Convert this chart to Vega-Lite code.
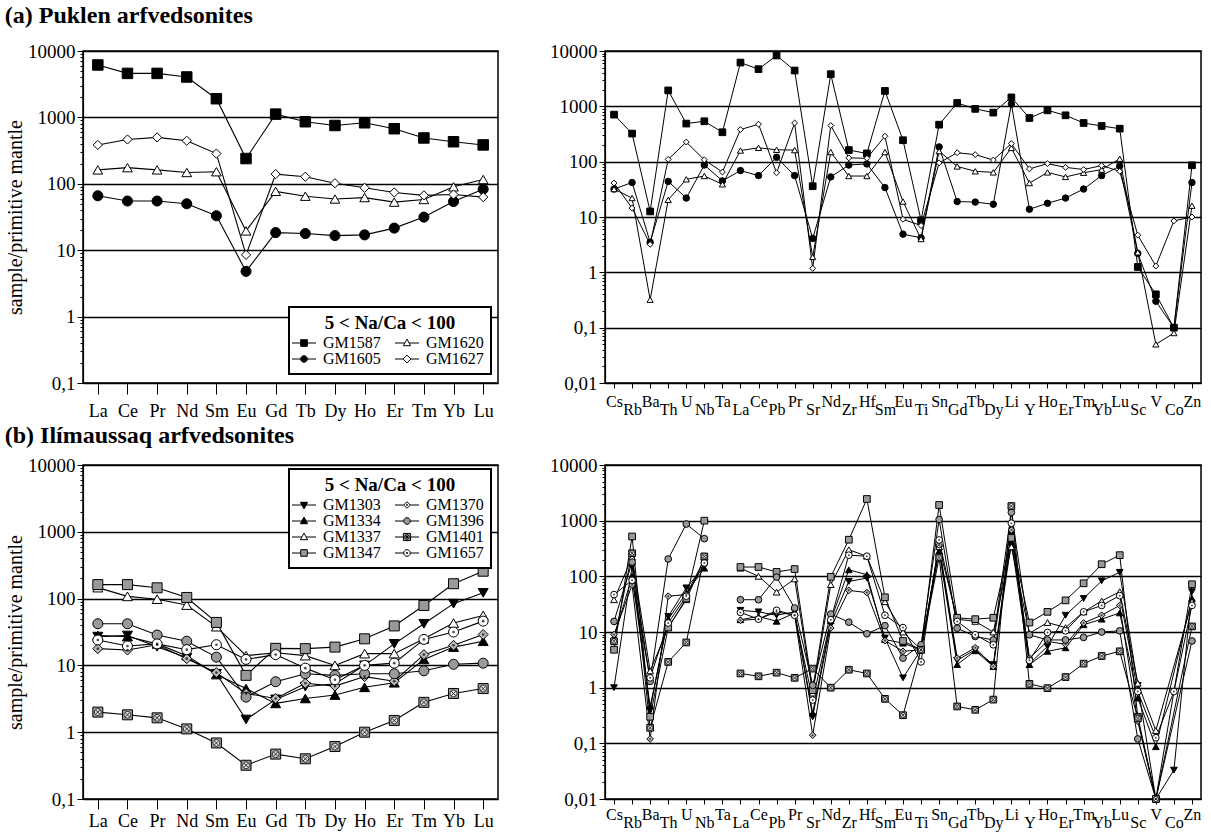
{
  "$schema": "https://vega.github.io/schema/vega-lite/v6.json",
  "padding": {"left": 4, "top": 4, "right": 3, "bottom": 2},
  "background": "white",
  "datasets": {
    "tREE": [
      {"s":"GM1587","e":"La","v":6160},{"s":"GM1587","e":"Ce","v":4600},{"s":"GM1587","e":"Pr","v":4600},{"s":"GM1587","e":"Nd","v":4060},{"s":"GM1587","e":"Sm","v":1910},{"s":"GM1587","e":"Eu","v":240},{"s":"GM1587","e":"Gd","v":1120},{"s":"GM1587","e":"Tb","v":860},{"s":"GM1587","e":"Dy","v":755},{"s":"GM1587","e":"Ho","v":830},{"s":"GM1587","e":"Er","v":675},{"s":"GM1587","e":"Tm","v":490},{"s":"GM1587","e":"Yb","v":430},{"s":"GM1587","e":"Lu","v":385},
      {"s":"GM1605","e":"La","v":66},{"s":"GM1605","e":"Ce","v":55},{"s":"GM1605","e":"Pr","v":55},{"s":"GM1605","e":"Nd","v":50},{"s":"GM1605","e":"Sm","v":33},{"s":"GM1605","e":"Eu","v":4.8},{"s":"GM1605","e":"Gd","v":18.4},{"s":"GM1605","e":"Tb","v":17.8},{"s":"GM1605","e":"Dy","v":16.6},{"s":"GM1605","e":"Ho","v":17},{"s":"GM1605","e":"Er","v":21.5},{"s":"GM1605","e":"Tm","v":31.5},{"s":"GM1605","e":"Yb","v":54},{"s":"GM1605","e":"Lu","v":83},
      {"s":"GM1620","e":"La","v":162},{"s":"GM1620","e":"Ce","v":175},{"s":"GM1620","e":"Pr","v":162},{"s":"GM1620","e":"Nd","v":148},{"s":"GM1620","e":"Sm","v":152},{"s":"GM1620","e":"Eu","v":19.5},{"s":"GM1620","e":"Gd","v":77},{"s":"GM1620","e":"Tb","v":65},{"s":"GM1620","e":"Dy","v":59},{"s":"GM1620","e":"Ho","v":62},{"s":"GM1620","e":"Er","v":53},{"s":"GM1620","e":"Tm","v":58},{"s":"GM1620","e":"Yb","v":90},{"s":"GM1620","e":"Lu","v":116},
      {"s":"GM1627","e":"La","v":385},{"s":"GM1627","e":"Ce","v":465},{"s":"GM1627","e":"Pr","v":500},{"s":"GM1627","e":"Nd","v":445},{"s":"GM1627","e":"Sm","v":285},{"s":"GM1627","e":"Eu","v":8.5},{"s":"GM1627","e":"Gd","v":140},{"s":"GM1627","e":"Tb","v":128},{"s":"GM1627","e":"Dy","v":102},{"s":"GM1627","e":"Ho","v":87},{"s":"GM1627","e":"Er","v":74},{"s":"GM1627","e":"Tm","v":67},{"s":"GM1627","e":"Yb","v":69},{"s":"GM1627","e":"Lu","v":63}
    ],
    "tSp": [
      {"s":"GM1587","e":"Cs","v":708},{"s":"GM1587","e":"Rb","v":322},{"s":"GM1587","e":"Ba","v":12.6},{"s":"GM1587","e":"Th","v":1940},{"s":"GM1587","e":"U","v":488},{"s":"GM1587","e":"Nb","v":537},{"s":"GM1587","e":"Ta","v":340},{"s":"GM1587","e":"La","v":6180},{"s":"GM1587","e":"Ce","v":4690},{"s":"GM1587","e":"Pb","v":8300},{"s":"GM1587","e":"Pr","v":4440},{"s":"GM1587","e":"Sr","v":36},{"s":"GM1587","e":"Nd","v":3810},{"s":"GM1587","e":"Zr","v":162},{"s":"GM1587","e":"Hf","v":141},{"s":"GM1587","e":"Sm","v":1900},{"s":"GM1587","e":"Eu","v":244},{"s":"GM1587","e":"Ti","v":8.7},{"s":"GM1587","e":"Sn","v":466},{"s":"GM1587","e":"Gd","v":1150},{"s":"GM1587","e":"Tb","v":900},{"s":"GM1587","e":"Dy","v":770},{"s":"GM1587","e":"Li","v":1450},{"s":"GM1587","e":"Y","v":615},{"s":"GM1587","e":"Ho","v":846},{"s":"GM1587","e":"Er","v":688},{"s":"GM1587","e":"Tm","v":500},{"s":"GM1587","e":"Yb","v":441},{"s":"GM1587","e":"Lu","v":395},{"s":"GM1587","e":"Sc","v":1.25},{"s":"GM1587","e":"V","v":0.4},{"s":"GM1587","e":"Co","v":0.1},{"s":"GM1587","e":"Zn","v":86},
      {"s":"GM1605","e":"Cs","v":32},{"s":"GM1605","e":"Rb","v":42},{"s":"GM1605","e":"Ba","v":3.5},{"s":"GM1605","e":"Th","v":44},{"s":"GM1605","e":"U","v":22},{"s":"GM1605","e":"Nb","v":87},{"s":"GM1605","e":"Ta","v":45},{"s":"GM1605","e":"La","v":69},{"s":"GM1605","e":"Ce","v":56},{"s":"GM1605","e":"Pb","v":120},{"s":"GM1605","e":"Pr","v":56},{"s":"GM1605","e":"Sr","v":4.1},{"s":"GM1605","e":"Nd","v":53},{"s":"GM1605","e":"Zr","v":87},{"s":"GM1605","e":"Hf","v":91},{"s":"GM1605","e":"Sm","v":34},{"s":"GM1605","e":"Eu","v":4.9},{"s":"GM1605","e":"Ti","v":4.2},{"s":"GM1605","e":"Sn","v":185},{"s":"GM1605","e":"Gd","v":19},{"s":"GM1605","e":"Tb","v":18.6},{"s":"GM1605","e":"Dy","v":17},{"s":"GM1605","e":"Li","v":1100},{"s":"GM1605","e":"Y","v":13.8},{"s":"GM1605","e":"Ho","v":17.7},{"s":"GM1605","e":"Er","v":22},{"s":"GM1605","e":"Tm","v":32},{"s":"GM1605","e":"Yb","v":56},{"s":"GM1605","e":"Lu","v":83},{"s":"GM1605","e":"Sc","v":2.2},{"s":"GM1605","e":"V","v":0.3},{"s":"GM1605","e":"Co","v":0.1},{"s":"GM1605","e":"Zn","v":42},
      {"s":"GM1620","e":"Cs","v":32},{"s":"GM1620","e":"Rb","v":22},{"s":"GM1620","e":"Ba","v":0.32},{"s":"GM1620","e":"Th","v":20.4},{"s":"GM1620","e":"U","v":48},{"s":"GM1620","e":"Nb","v":55},{"s":"GM1620","e":"Ta","v":39},{"s":"GM1620","e":"La","v":159},{"s":"GM1620","e":"Ce","v":178},{"s":"GM1620","e":"Pb","v":164},{"s":"GM1620","e":"Pr","v":162},{"s":"GM1620","e":"Sr","v":1.9},{"s":"GM1620","e":"Nd","v":149},{"s":"GM1620","e":"Zr","v":55},{"s":"GM1620","e":"Hf","v":55},{"s":"GM1620","e":"Sm","v":149},{"s":"GM1620","e":"Eu","v":19},{"s":"GM1620","e":"Ti","v":4.0},{"s":"GM1620","e":"Sn","v":155},{"s":"GM1620","e":"Gd","v":82},{"s":"GM1620","e":"Tb","v":67},{"s":"GM1620","e":"Dy","v":64},{"s":"GM1620","e":"Li","v":177},{"s":"GM1620","e":"Y","v":41},{"s":"GM1620","e":"Ho","v":64},{"s":"GM1620","e":"Er","v":53},{"s":"GM1620","e":"Tm","v":63},{"s":"GM1620","e":"Yb","v":72},{"s":"GM1620","e":"Lu","v":113},{"s":"GM1620","e":"Sc","v":2.3},{"s":"GM1620","e":"V","v":0.05},{"s":"GM1620","e":"Co","v":0.08},{"s":"GM1620","e":"Zn","v":16},
      {"s":"GM1627","e":"Cs","v":41},{"s":"GM1627","e":"Rb","v":14.5},{"s":"GM1627","e":"Ba","v":3.2},{"s":"GM1627","e":"Th","v":110},{"s":"GM1627","e":"U","v":226},{"s":"GM1627","e":"Nb","v":108},{"s":"GM1627","e":"Ta","v":65},{"s":"GM1627","e":"La","v":380},{"s":"GM1627","e":"Ce","v":475},{"s":"GM1627","e":"Pb","v":63},{"s":"GM1627","e":"Pr","v":500},{"s":"GM1627","e":"Sr","v":1.18},{"s":"GM1627","e":"Nd","v":450},{"s":"GM1627","e":"Zr","v":117},{"s":"GM1627","e":"Hf","v":115},{"s":"GM1627","e":"Sm","v":288},{"s":"GM1627","e":"Eu","v":9.1},{"s":"GM1627","e":"Ti","v":7},{"s":"GM1627","e":"Sn","v":95},{"s":"GM1627","e":"Gd","v":145},{"s":"GM1627","e":"Tb","v":134},{"s":"GM1627","e":"Dy","v":107},{"s":"GM1627","e":"Li","v":212},{"s":"GM1627","e":"Y","v":74},{"s":"GM1627","e":"Ho","v":92},{"s":"GM1627","e":"Er","v":79},{"s":"GM1627","e":"Tm","v":72},{"s":"GM1627","e":"Yb","v":85},{"s":"GM1627","e":"Lu","v":67},{"s":"GM1627","e":"Sc","v":4.7},{"s":"GM1627","e":"V","v":1.3},{"s":"GM1627","e":"Co","v":8.5},{"s":"GM1627","e":"Zn","v":10}
    ],
    "bREE": [
      {"s":"GM1303","e":"La","v":27},{"s":"GM1303","e":"Ce","v":28},{"s":"GM1303","e":"Pr","v":19},{"s":"GM1303","e":"Nd","v":13},{"s":"GM1303","e":"Sm","v":7.5},{"s":"GM1303","e":"Eu","v":1.55},{"s":"GM1303","e":"Gd","v":3.1},{"s":"GM1303","e":"Tb","v":4.8},{"s":"GM1303","e":"Dy","v":5.3},{"s":"GM1303","e":"Ho","v":10},{"s":"GM1303","e":"Er","v":21},{"s":"GM1303","e":"Tm","v":42},{"s":"GM1303","e":"Yb","v":84},{"s":"GM1303","e":"Lu","v":122},
      {"s":"GM1334","e":"La","v":28},{"s":"GM1334","e":"Ce","v":27},{"s":"GM1334","e":"Pr","v":21},{"s":"GM1334","e":"Nd","v":14},{"s":"GM1334","e":"Sm","v":7.3},{"s":"GM1334","e":"Eu","v":4.5},{"s":"GM1334","e":"Gd","v":2.7},{"s":"GM1334","e":"Tb","v":3.2},{"s":"GM1334","e":"Dy","v":3.6},{"s":"GM1334","e":"Ho","v":4.7},{"s":"GM1334","e":"Er","v":5.5},{"s":"GM1334","e":"Tm","v":12.3},{"s":"GM1334","e":"Yb","v":18.8},{"s":"GM1334","e":"Lu","v":23},
      {"s":"GM1337","e":"La","v":146},{"s":"GM1337","e":"Ce","v":108},{"s":"GM1337","e":"Pr","v":98},{"s":"GM1337","e":"Nd","v":80},{"s":"GM1337","e":"Sm","v":38},{"s":"GM1337","e":"Eu","v":14},{"s":"GM1337","e":"Gd","v":15.5},{"s":"GM1337","e":"Tb","v":14},{"s":"GM1337","e":"Dy","v":10},{"s":"GM1337","e":"Ho","v":15},{"s":"GM1337","e":"Er","v":15},{"s":"GM1337","e":"Tm","v":25},{"s":"GM1337","e":"Yb","v":43},{"s":"GM1337","e":"Lu","v":56},
      {"s":"GM1347","e":"La","v":162},{"s":"GM1347","e":"Ce","v":162},{"s":"GM1347","e":"Pr","v":145},{"s":"GM1347","e":"Nd","v":104},{"s":"GM1347","e":"Sm","v":44},{"s":"GM1347","e":"Eu","v":7.1},{"s":"GM1347","e":"Gd","v":18},{"s":"GM1347","e":"Tb","v":17.8},{"s":"GM1347","e":"Dy","v":18.8},{"s":"GM1347","e":"Ho","v":25},{"s":"GM1347","e":"Er","v":39},{"s":"GM1347","e":"Tm","v":79},{"s":"GM1347","e":"Yb","v":167},{"s":"GM1347","e":"Lu","v":257},
      {"s":"GM1370","e":"La","v":17.8},{"s":"GM1370","e":"Ce","v":17},{"s":"GM1370","e":"Pr","v":20.4},{"s":"GM1370","e":"Nd","v":12.6},{"s":"GM1370","e":"Sm","v":7.8},{"s":"GM1370","e":"Eu","v":3.8},{"s":"GM1370","e":"Gd","v":3.2},{"s":"GM1370","e":"Tb","v":5.4},{"s":"GM1370","e":"Dy","v":4.9},{"s":"GM1370","e":"Ho","v":6.8},{"s":"GM1370","e":"Er","v":5.8},{"s":"GM1370","e":"Tm","v":14.5},{"s":"GM1370","e":"Yb","v":20},{"s":"GM1370","e":"Lu","v":29},
      {"s":"GM1396","e":"La","v":42},{"s":"GM1396","e":"Ce","v":42},{"s":"GM1396","e":"Pr","v":28.5},{"s":"GM1396","e":"Nd","v":23},{"s":"GM1396","e":"Sm","v":13.3},{"s":"GM1396","e":"Eu","v":3.35},{"s":"GM1396","e":"Gd","v":5.7},{"s":"GM1396","e":"Tb","v":7.5},{"s":"GM1396","e":"Dy","v":7.1},{"s":"GM1396","e":"Ho","v":7.5},{"s":"GM1396","e":"Er","v":7.5},{"s":"GM1396","e":"Tm","v":8.3},{"s":"GM1396","e":"Yb","v":10.4},{"s":"GM1396","e":"Lu","v":10.8},
      {"s":"GM1401","e":"La","v":2.0},{"s":"GM1401","e":"Ce","v":1.82},{"s":"GM1401","e":"Pr","v":1.64},{"s":"GM1401","e":"Nd","v":1.12},{"s":"GM1401","e":"Sm","v":0.69},{"s":"GM1401","e":"Eu","v":0.32},{"s":"GM1401","e":"Gd","v":0.47},{"s":"GM1401","e":"Tb","v":0.40},{"s":"GM1401","e":"Dy","v":0.61},{"s":"GM1401","e":"Ho","v":1.0},{"s":"GM1401","e":"Er","v":1.5},{"s":"GM1401","e":"Tm","v":2.8},{"s":"GM1401","e":"Yb","v":3.8},{"s":"GM1401","e":"Lu","v":4.5},
      {"s":"GM1657","e":"La","v":24},{"s":"GM1657","e":"Ce","v":19.5},{"s":"GM1657","e":"Pr","v":21},{"s":"GM1657","e":"Nd","v":17.2},{"s":"GM1657","e":"Sm","v":20.4},{"s":"GM1657","e":"Eu","v":12.3},{"s":"GM1657","e":"Gd","v":14.5},{"s":"GM1657","e":"Tb","v":9.1},{"s":"GM1657","e":"Dy","v":6.1},{"s":"GM1657","e":"Ho","v":10},{"s":"GM1657","e":"Er","v":10.8},{"s":"GM1657","e":"Tm","v":24.5},{"s":"GM1657","e":"Yb","v":31.6},{"s":"GM1657","e":"Lu","v":46}
    ],
    "bSp": [
      {"s":"GM1303","e":"Cs","v":1.0},{"s":"GM1303","e":"Rb","v":150},{"s":"GM1303","e":"Ba","v":0.4},{"s":"GM1303","e":"Th","v":19},{"s":"GM1303","e":"U","v":62},{"s":"GM1303","e":"Nb","v":150},{"s":"GM1303","e":"Ta","v":null},{"s":"GM1303","e":"La","v":24.5},{"s":"GM1303","e":"Ce","v":23},{"s":"GM1303","e":"Pb","v":20},{"s":"GM1303","e":"Pr","v":23},{"s":"GM1303","e":"Sr","v":0.3},{"s":"GM1303","e":"Nd","v":14},{"s":"GM1303","e":"Zr","v":81},{"s":"GM1303","e":"Hf","v":93},{"s":"GM1303","e":"Sm","v":7.8},{"s":"GM1303","e":"Eu","v":1.5},{"s":"GM1303","e":"Ti","v":4.8},{"s":"GM1303","e":"Sn","v":315},{"s":"GM1303","e":"Gd","v":3.1},{"s":"GM1303","e":"Tb","v":4.8},{"s":"GM1303","e":"Dy","v":2.6},{"s":"GM1303","e":"Li","v":550},{"s":"GM1303","e":"Y","v":2.7},{"s":"GM1303","e":"Ho","v":5.5},{"s":"GM1303","e":"Er","v":20},{"s":"GM1303","e":"Tm","v":40},{"s":"GM1303","e":"Yb","v":83},{"s":"GM1303","e":"Lu","v":118},{"s":"GM1303","e":"Sc","v":1.1},{"s":"GM1303","e":"V","v":0.01},{"s":"GM1303","e":"Co","v":0.033},{"s":"GM1303","e":"Zn","v":53},
      {"s":"GM1334","e":"Cs","v":8},{"s":"GM1334","e":"Rb","v":100},{"s":"GM1334","e":"Ba","v":0.46},{"s":"GM1334","e":"Th","v":17},{"s":"GM1334","e":"U","v":50},{"s":"GM1334","e":"Nb","v":140},{"s":"GM1334","e":"Ta","v":null},{"s":"GM1334","e":"La","v":16.6},{"s":"GM1334","e":"Ce","v":19},{"s":"GM1334","e":"Pb","v":15.6},{"s":"GM1334","e":"Pr","v":22},{"s":"GM1334","e":"Sr","v":0.35},{"s":"GM1334","e":"Nd","v":16},{"s":"GM1334","e":"Zr","v":131},{"s":"GM1334","e":"Hf","v":107},{"s":"GM1334","e":"Sm","v":7.3},{"s":"GM1334","e":"Eu","v":6.3},{"s":"GM1334","e":"Ti","v":4.8},{"s":"GM1334","e":"Sn","v":280},{"s":"GM1334","e":"Gd","v":2.6},{"s":"GM1334","e":"Tb","v":4.6},{"s":"GM1334","e":"Dy","v":2.4},{"s":"GM1334","e":"Li","v":420},{"s":"GM1334","e":"Y","v":2.6},{"s":"GM1334","e":"Ho","v":4.5},{"s":"GM1334","e":"Er","v":5.2},{"s":"GM1334","e":"Tm","v":13.5},{"s":"GM1334","e":"Yb","v":17},{"s":"GM1334","e":"Lu","v":22},{"s":"GM1334","e":"Sc","v":0.65},{"s":"GM1334","e":"V","v":0.087},{"s":"GM1334","e":"Zn","v":40},
      {"s":"GM1337","e":"Cs","v":38},{"s":"GM1337","e":"Rb","v":220},{"s":"GM1337","e":"Ba","v":2.0},{"s":"GM1337","e":"Th","v":12},{"s":"GM1337","e":"U","v":38},{"s":"GM1337","e":"Nb","v":210},{"s":"GM1337","e":"Ta","v":null},{"s":"GM1337","e":"La","v":140},{"s":"GM1337","e":"Ce","v":100},{"s":"GM1337","e":"Pb","v":52},{"s":"GM1337","e":"Pr","v":90},{"s":"GM1337","e":"Sr","v":0.8},{"s":"GM1337","e":"Nd","v":71},{"s":"GM1337","e":"Zr","v":300},{"s":"GM1337","e":"Hf","v":230},{"s":"GM1337","e":"Sm","v":35},{"s":"GM1337","e":"Eu","v":10},{"s":"GM1337","e":"Ti","v":4.8},{"s":"GM1337","e":"Sn","v":340},{"s":"GM1337","e":"Gd","v":17},{"s":"GM1337","e":"Tb","v":15.5},{"s":"GM1337","e":"Dy","v":10},{"s":"GM1337","e":"Li","v":340},{"s":"GM1337","e":"Y","v":9.5},{"s":"GM1337","e":"Ho","v":14.8},{"s":"GM1337","e":"Er","v":12},{"s":"GM1337","e":"Tm","v":23},{"s":"GM1337","e":"Yb","v":36},{"s":"GM1337","e":"Lu","v":53},{"s":"GM1337","e":"Sc","v":1.2},{"s":"GM1337","e":"V","v":0.17},{"s":"GM1337","e":"Zn","v":35},
      {"s":"GM1347","e":"Cs","v":4.8},{"s":"GM1347","e":"Rb","v":520},{"s":"GM1347","e":"Ba","v":0.3},{"s":"GM1347","e":"Th","v":12},{"s":"GM1347","e":"U","v":40},{"s":"GM1347","e":"Nb","v":1000},{"s":"GM1347","e":"Ta","v":null},{"s":"GM1347","e":"La","v":147},{"s":"GM1347","e":"Ce","v":147},{"s":"GM1347","e":"Pb","v":120},{"s":"GM1347","e":"Pr","v":135},{"s":"GM1347","e":"Sr","v":0.9},{"s":"GM1347","e":"Nd","v":98},{"s":"GM1347","e":"Zr","v":455},{"s":"GM1347","e":"Hf","v":2450},{"s":"GM1347","e":"Sm","v":42},{"s":"GM1347","e":"Eu","v":6.9},{"s":"GM1347","e":"Ti","v":4.8},{"s":"GM1347","e":"Sn","v":1910},{"s":"GM1347","e":"Gd","v":18},{"s":"GM1347","e":"Tb","v":17},{"s":"GM1347","e":"Dy","v":18},{"s":"GM1347","e":"Li","v":490},{"s":"GM1347","e":"Y","v":14.8},{"s":"GM1347","e":"Ho","v":23},{"s":"GM1347","e":"Er","v":37},{"s":"GM1347","e":"Tm","v":75},{"s":"GM1347","e":"Yb","v":165},{"s":"GM1347","e":"Lu","v":240},{"s":"GM1347","e":"Sc","v":0.3},{"s":"GM1347","e":"V","v":0.01},{"s":"GM1347","e":"Zn","v":72},
      {"s":"GM1370","e":"Cs","v":9},{"s":"GM1370","e":"Rb","v":70},{"s":"GM1370","e":"Ba","v":0.12},{"s":"GM1370","e":"Th","v":44},{"s":"GM1370","e":"U","v":47},{"s":"GM1370","e":"Nb","v":200},{"s":"GM1370","e":"Ta","v":null},{"s":"GM1370","e":"La","v":16.2},{"s":"GM1370","e":"Ce","v":17},{"s":"GM1370","e":"Pb","v":23},{"s":"GM1370","e":"Pr","v":20},{"s":"GM1370","e":"Sr","v":0.14},{"s":"GM1370","e":"Nd","v":11.8},{"s":"GM1370","e":"Zr","v":56},{"s":"GM1370","e":"Hf","v":51},{"s":"GM1370","e":"Sm","v":7},{"s":"GM1370","e":"Eu","v":4.5},{"s":"GM1370","e":"Ti","v":4.8},{"s":"GM1370","e":"Sn","v":365},{"s":"GM1370","e":"Gd","v":3.4},{"s":"GM1370","e":"Tb","v":5.2},{"s":"GM1370","e":"Dy","v":2.4},{"s":"GM1370","e":"Li","v":680},{"s":"GM1370","e":"Y","v":3.4},{"s":"GM1370","e":"Ho","v":6.8},{"s":"GM1370","e":"Er","v":6},{"s":"GM1370","e":"Tm","v":14.5},{"s":"GM1370","e":"Yb","v":20},{"s":"GM1370","e":"Lu","v":30},{"s":"GM1370","e":"Sc","v":0.25},{"s":"GM1370","e":"V","v":0.01},
      {"s":"GM1396","e":"Cs","v":15.5},{"s":"GM1396","e":"Rb","v":180},{"s":"GM1396","e":"Ba","v":1.3},{"s":"GM1396","e":"Th","v":205},{"s":"GM1396","e":"U","v":870},{"s":"GM1396","e":"Nb","v":475},{"s":"GM1396","e":"Ta","v":null},{"s":"GM1396","e":"La","v":38},{"s":"GM1396","e":"Ce","v":38},{"s":"GM1396","e":"Pb","v":97},{"s":"GM1396","e":"Pr","v":27},{"s":"GM1396","e":"Sr","v":1.1},{"s":"GM1396","e":"Nd","v":21},{"s":"GM1396","e":"Zr","v":15},{"s":"GM1396","e":"Hf","v":9.3},{"s":"GM1396","e":"Sm","v":13},{"s":"GM1396","e":"Eu","v":3.4},{"s":"GM1396","e":"Ti","v":5.9},{"s":"GM1396","e":"Sn","v":1050},{"s":"GM1396","e":"Gd","v":11.7},{"s":"GM1396","e":"Tb","v":8.3},{"s":"GM1396","e":"Dy","v":7.2},{"s":"GM1396","e":"Li","v":1410},{"s":"GM1396","e":"Y","v":8.9},{"s":"GM1396","e":"Ho","v":7.2},{"s":"GM1396","e":"Er","v":7.2},{"s":"GM1396","e":"Tm","v":8},{"s":"GM1396","e":"Yb","v":10},{"s":"GM1396","e":"Lu","v":10.5},{"s":"GM1396","e":"Sc","v":0.12},{"s":"GM1396","e":"V","v":0.01},{"s":"GM1396","e":"Zn","v":6.9},
      {"s":"GM1401","e":"Cs","v":6.8},{"s":"GM1401","e":"Rb","v":260},{"s":"GM1401","e":"Ba","v":0.19},{"s":"GM1401","e":"Th","v":2.9},{"s":"GM1401","e":"U","v":6.5},{"s":"GM1401","e":"Nb","v":228},{"s":"GM1401","e":"Ta","v":null},{"s":"GM1401","e":"La","v":1.8},{"s":"GM1401","e":"Ce","v":1.6},{"s":"GM1401","e":"Pb","v":1.86},{"s":"GM1401","e":"Pr","v":1.5},{"s":"GM1401","e":"Sr","v":2.2},{"s":"GM1401","e":"Nd","v":1.0},{"s":"GM1401","e":"Zr","v":2.1},{"s":"GM1401","e":"Hf","v":1.8},{"s":"GM1401","e":"Sm","v":0.63},{"s":"GM1401","e":"Eu","v":0.32},{"s":"GM1401","e":"Ti","v":4.8},{"s":"GM1401","e":"Sn","v":218},{"s":"GM1401","e":"Gd","v":0.46},{"s":"GM1401","e":"Tb","v":0.4},{"s":"GM1401","e":"Dy","v":0.61},{"s":"GM1401","e":"Li","v":1830},{"s":"GM1401","e":"Y","v":1.17},{"s":"GM1401","e":"Ho","v":0.98},{"s":"GM1401","e":"Er","v":1.55},{"s":"GM1401","e":"Tm","v":2.7},{"s":"GM1401","e":"Yb","v":3.7},{"s":"GM1401","e":"Lu","v":4.5},{"s":"GM1401","e":"Sc","v":0.28},{"s":"GM1401","e":"V","v":0.01},{"s":"GM1401","e":"Zn","v":12.6},
      {"s":"GM1657","e":"Cs","v":47},{"s":"GM1657","e":"Rb","v":85},{"s":"GM1657","e":"Ba","v":1.5},{"s":"GM1657","e":"Th","v":14.5},{"s":"GM1657","e":"U","v":44},{"s":"GM1657","e":"Nb","v":174},{"s":"GM1657","e":"Ta","v":null},{"s":"GM1657","e":"La","v":22.5},{"s":"GM1657","e":"Ce","v":17},{"s":"GM1657","e":"Pb","v":24.5},{"s":"GM1657","e":"Pr","v":20},{"s":"GM1657","e":"Sr","v":0.6},{"s":"GM1657","e":"Nd","v":16.6},{"s":"GM1657","e":"Zr","v":240},{"s":"GM1657","e":"Hf","v":230},{"s":"GM1657","e":"Sm","v":20},{"s":"GM1657","e":"Eu","v":12},{"s":"GM1657","e":"Ti","v":2.9},{"s":"GM1657","e":"Sn","v":450},{"s":"GM1657","e":"Gd","v":15.5},{"s":"GM1657","e":"Tb","v":8.9},{"s":"GM1657","e":"Dy","v":5.9},{"s":"GM1657","e":"Li","v":900},{"s":"GM1657","e":"Y","v":3.1},{"s":"GM1657","e":"Ho","v":9.8},{"s":"GM1657","e":"Er","v":10.5},{"s":"GM1657","e":"Tm","v":23},{"s":"GM1657","e":"Yb","v":30},{"s":"GM1657","e":"Lu","v":45},{"s":"GM1657","e":"Sc","v":0.85},{"s":"GM1657","e":"V","v":0.126},{"s":"GM1657","e":"Co","v":0.85},{"s":"GM1657","e":"Zn","v":30}
    ]
  },
  "vconcat": [
    {
      "title": {"text": "(a) Puklen arfvedsonites", "offset": 13},
      "spacing": 49,
      "resolve": {"scale": {"shape": "independent", "fill": "independent", "size": "independent"}, "legend": {"shape": "independent", "fill": "independent", "size": "independent"}},
      "hconcat": [
        {
          "width": 415, "height": 332,
          "data": {"name": "tREE"},
          "encoding": {
            "x": {"field": "e", "type": "nominal", "scale": {"type": "point", "padding": 0.5, "domain": ["La","Ce","Pr","Nd","Sm","Eu","Gd","Tb","Dy","Ho","Er","Tm","Yb","Lu"]},
                  "axis": {"title": null, "labelAngle": 0, "labelFontSize": 18, "tickSize": 11, "labelPadding": 8, "labelOverlap": false}},
            "y": {"field": "v", "type": "quantitative", "scale": {"type": "log", "domain": [0.1, 10000], "nice": false},
                  "axis": {"title": "sample/primitive mantle", "titleFontSize": 20, "titleFontWeight": "normal", "titlePadding": 2,
                           "values": [0.1,0.2,0.3,0.4,0.5,0.6,0.7,0.8,0.9,1,2,3,4,5,6,7,8,9,10,20,30,40,50,60,70,80,90,100,200,300,400,500,600,700,800,900,1000,2000,3000,4000,5000,6000,7000,8000,9000,10000],
                           "labelExpr": "abs(log(datum.value)/LN10 - round(log(datum.value)/LN10)) < 0.001 ? (datum.value >= 1 ? format(datum.value, 'd') : replace(format(datum.value, '~g'), '.', ',')) : ''",
                           "labelFontSize": 19, "labelOverlap": false, "labelPadding": 2,
                           "tickSize": {"condition": {"test": "abs(log(datum.value)/LN10 - round(log(datum.value)/LN10)) < 0.001", "value": 6}, "value": 3},
                           "grid": true, "gridColor": "black", "gridWidth": 1.3,
                           "gridOpacity": {"condition": {"test": "abs(log(datum.value)/LN10 - round(log(datum.value)/LN10)) < 0.001", "value": 1}, "value": 0}}}
          },
          "layer": [
            {"mark": {"type": "line", "color": "black", "strokeWidth": 1.1}, "encoding": {"detail": {"field": "s"}}},
            {"mark": {"type": "point", "filled": true, "stroke": "black", "strokeWidth": 1, "opacity": 1},
             "encoding": {
               "shape": {"field": "s", "scale": {"domain": ["GM1587","GM1605","GM1620","GM1627"], "range": ["square","circle","triangle-up","diamond"]}, "legend": null},
               "fill": {"field": "s", "scale": {"domain": ["GM1587","GM1605","GM1620","GM1627"], "range": ["black","black","white","white"]}, "legend": null},
               "size": {"field": "s", "type": "nominal", "scale": {"domain": ["GM1587","GM1605","GM1620","GM1627"], "range": [110,85,120,130]}, "legend": null}
             }},
            {"mark": {"type": "point", "filled": true, "stroke": "black", "strokeWidth": 1, "opacity": 0, "size": 36},
             "encoding": {
               "shape": {"field": "s", "scale": {"domain": ["GM1587","GM1605","GM1620","GM1627"], "range": [
                 "M-4,0H-1.1M1.1,0H4M-1.1,-1.1H1.1V1.1H-1.1Z",
                 "M-4,0H4M1.1,0A1.1,1.1,0,1,1,-1.1,0A1.1,1.1,0,1,1,1.1,0Z",
                 "M-4,0H-0.71M0.71,0H4M0,-1.3L1.2,0.9H-1.2Z",
                 "M-4,0H-1.3M1.3,0H4M0,-1.3L1.3,0L0,1.3L-1.3,0Z"]},
                 "legend": {"title": "5 < Na/Ca < 100", "orient": "none", "legendX": 206, "legendY": 256, "columns": 2,
                            "encode": {"symbols": {"update": {"stroke": {"value": "black"}, "strokeWidth": {"value": 1}, "opacity": {"value": 1}}}}}},
               "fill": {"field": "s", "scale": {"domain": ["GM1587","GM1605","GM1620","GM1627"], "range": ["black","black","white","white"]},
                 "legend": {"title": "5 < Na/Ca < 100", "orient": "none", "legendX": 206, "legendY": 256, "columns": 2,
                            "encode": {"symbols": {"update": {"stroke": {"value": "black"}, "strokeWidth": {"value": 1}, "opacity": {"value": 1}}}}}}
             }}
          ],
          "resolve": {"scale": {"shape": "independent", "fill": "independent", "size": "independent"}}
        },
        {
          "width": 596, "height": 332,
          "data": {"name": "tSp"},
          "encoding": {
            "x": {"field": "e", "type": "nominal", "scale": {"type": "point", "padding": 0.5, "domain": ["Cs","Rb","Ba","Th","U","Nb","Ta","La","Ce","Pb","Pr","Sr","Nd","Zr","Hf","Sm","Eu","Ti","Sn","Gd","Tb","Dy","Li","Y","Ho","Er","Tm","Yb","Lu","Sc","V","Co","Zn"]},
                  "axis": {"title": null, "labelAngle": 0, "labelFontSize": 16, "tickSize": 5, "labelOverlap": false,
                           "labelPadding": {"condition": {"test": "indexof(['Rb','Th','Nb','La','Pb','Sr','Zr','Sm','Ti','Gd','Dy','Y','Er','Yb','Sc','Co'], datum.value) >= 0", "value": 13}, "value": 5}}},
            "y": {"field": "v", "type": "quantitative", "scale": {"type": "log", "domain": [0.01, 10000], "nice": false},
                  "axis": {"title": null,
                           "values": [0.01,0.02,0.03,0.04,0.05,0.06,0.07,0.08,0.09,0.1,0.2,0.3,0.4,0.5,0.6,0.7,0.8,0.9,1,2,3,4,5,6,7,8,9,10,20,30,40,50,60,70,80,90,100,200,300,400,500,600,700,800,900,1000,2000,3000,4000,5000,6000,7000,8000,9000,10000],
                           "labelExpr": "abs(log(datum.value)/LN10 - round(log(datum.value)/LN10)) < 0.001 ? (datum.value >= 1 ? format(datum.value, 'd') : replace(format(datum.value, '~g'), '.', ',')) : ''",
                           "labelFontSize": 19, "labelOverlap": false, "labelPadding": 2,
                           "tickSize": {"condition": {"test": "abs(log(datum.value)/LN10 - round(log(datum.value)/LN10)) < 0.001", "value": 6}, "value": 3},
                           "grid": true, "gridColor": "black", "gridWidth": 1.3,
                           "gridOpacity": {"condition": {"test": "abs(log(datum.value)/LN10 - round(log(datum.value)/LN10)) < 0.001", "value": 1}, "value": 0}}}
          },
          "layer": [
            {"mark": {"type": "line", "color": "black", "strokeWidth": 1}, "encoding": {"detail": {"field": "s"}}},
            {"mark": {"type": "point", "filled": true, "stroke": "black", "strokeWidth": 1, "opacity": 1},
             "encoding": {
               "shape": {"field": "s", "scale": {"domain": ["GM1587","GM1605","GM1620","GM1627"], "range": ["square","circle","triangle-up","diamond"]}, "legend": null},
               "fill": {"field": "s", "scale": {"domain": ["GM1587","GM1605","GM1620","GM1627"], "range": ["black","black","white","white"]}, "legend": null},
               "size": {"field": "s", "type": "nominal", "scale": {"domain": ["GM1587","GM1605","GM1620","GM1627"], "range": [45,35,45,45]}, "legend": null}
             }}
          ]
        }
      ]
    },
    {
      "title": {"text": "(b) Ilímaussaq arfvedsonites", "offset": 7},
      "spacing": 49,
      "resolve": {"scale": {"shape": "independent", "fill": "independent", "size": "independent"}, "legend": {"shape": "independent", "fill": "independent", "size": "independent"}},
      "hconcat": [
        {
          "width": 415, "height": 334,
          "data": {"name": "bREE"},
          "encoding": {
            "x": {"field": "e", "type": "nominal", "scale": {"type": "point", "padding": 0.5, "domain": ["La","Ce","Pr","Nd","Sm","Eu","Gd","Tb","Dy","Ho","Er","Tm","Yb","Lu"]},
                  "axis": {"title": null, "labelAngle": 0, "labelFontSize": 18, "tickSize": 10, "labelPadding": 3, "labelOverlap": false}},
            "y": {"field": "v", "type": "quantitative", "scale": {"type": "log", "domain": [0.1, 10000], "nice": false},
                  "axis": {"title": "sample/primitive mantle", "titleFontSize": 20, "titleFontWeight": "normal", "titlePadding": 2,
                           "values": [0.1,0.2,0.3,0.4,0.5,0.6,0.7,0.8,0.9,1,2,3,4,5,6,7,8,9,10,20,30,40,50,60,70,80,90,100,200,300,400,500,600,700,800,900,1000,2000,3000,4000,5000,6000,7000,8000,9000,10000],
                           "labelExpr": "abs(log(datum.value)/LN10 - round(log(datum.value)/LN10)) < 0.001 ? (datum.value >= 1 ? format(datum.value, 'd') : replace(format(datum.value, '~g'), '.', ',')) : ''",
                           "labelFontSize": 19, "labelOverlap": false, "labelPadding": 2,
                           "tickSize": {"condition": {"test": "abs(log(datum.value)/LN10 - round(log(datum.value)/LN10)) < 0.001", "value": 6}, "value": 3},
                           "grid": true, "gridColor": "black", "gridWidth": 1.3,
                           "gridOpacity": {"condition": {"test": "abs(log(datum.value)/LN10 - round(log(datum.value)/LN10)) < 0.001", "value": 1}, "value": 0}}}
          },
          "layer": [
            {"mark": {"type": "line", "color": "black", "strokeWidth": 1.1}, "encoding": {"detail": {"field": "s"}}},
            {"mark": {"type": "point", "filled": true, "stroke": "black", "strokeWidth": 1, "opacity": 1},
             "encoding": {
               "shape": {"field": "s", "scale": {"domain": ["GM1303","GM1334","GM1337","GM1347","GM1370","GM1396","GM1401","GM1657"], "range": ["triangle-down","triangle-up","triangle-up","square","diamond","circle","square","circle"]}, "legend": null},
               "fill": {"field": "s", "scale": {"domain": ["GM1303","GM1334","GM1337","GM1347","GM1370","GM1396","GM1401","GM1657"], "range": ["black","black","white","#999999","#bbbbbb","#999999","#999999","white"]}, "legend": null},
               "size": {"field": "s", "type": "nominal", "scale": {"domain": ["GM1303","GM1334","GM1337","GM1347","GM1370","GM1396","GM1401","GM1657"], "range": [100,100,110,140,75,100,120,100]}, "legend": null}
             }},
            {"transform": [{"filter": "datum.s == 'GM1401'"}],
             "mark": {"type": "point", "filled": true, "fill": "white", "stroke": "black", "strokeWidth": 1, "size": 120,
                      "shape": "M0.62,0A0.62,0.62,0,1,1,-0.62,0A0.62,0.62,0,1,1,0.62,0ZM-0.4,-0.4L0.4,0.4M-0.4,0.4L0.4,-0.4"},
             "encoding": {}},
            {"transform": [{"filter": "datum.s == 'GM1657' || datum.s == 'GM1370'"}],
             "mark": {"type": "point", "filled": true, "fill": "black", "shape": "circle", "size": 7},
             "encoding": {}},
            {"mark": {"type": "point", "filled": true, "stroke": "black", "strokeWidth": 1, "opacity": 0, "size": 36},
             "encoding": {
               "shape": {"field": "s", "scale": {"domain": ["GM1303","GM1334","GM1337","GM1347","GM1370","GM1396","GM1401","GM1657"], "range": [
                 "M-4,0H4M-1.2,-0.9H1.2L0,1.3Z",
                 "M-4,0H4M0,-1.3L1.2,0.9H-1.2Z",
                 "M-4,0H-0.71M0.71,0H4M0,-1.3L1.2,0.9H-1.2Z",
                 "M-4,0H-1.1M1.1,0H4M-1.1,-1.1H1.1V1.1H-1.1Z",
                 "M-4,0H-1.1M1.1,0H4M0,-1.1L1.1,0L0,1.1L-1.1,0ZM0.2,0A0.2,0.2,0,1,1,-0.2,0A0.2,0.2,0,1,1,0.2,0Z",
                 "M-4,0H-1.1M1.1,0H4M1.1,0A1.1,1.1,0,1,1,-1.1,0A1.1,1.1,0,1,1,1.1,0Z",
                 "M-4,0H-1.2M1.2,0H4M-1.2,-1.2H1.2V1.2H-1.2ZM0.75,0A0.75,0.75,0,1,1,-0.75,0A0.75,0.75,0,1,1,0.75,0ZM-0.45,-0.45L0.45,0.45M-0.45,0.45L0.45,-0.45",
                 "M-4,0H-1.1M1.1,0H4M1.1,0A1.1,1.1,0,1,1,-1.1,0A1.1,1.1,0,1,1,1.1,0ZM0.25,0A0.25,0.25,0,1,1,-0.25,0A0.25,0.25,0,1,1,0.25,0Z"]},
                 "legend": {"title": "5 < Na/Ca < 100", "orient": "none", "legendX": 206, "legendY": 4, "columns": 2, "rowPadding": -3,
                            "encode": {"symbols": {"update": {"stroke": {"value": "black"}, "strokeWidth": {"value": 1}, "opacity": {"value": 1}}}}}},
               "fill": {"field": "s", "scale": {"domain": ["GM1303","GM1334","GM1337","GM1347","GM1370","GM1396","GM1401","GM1657"], "range": ["black","black","white","#999999","white","#999999","#999999","white"]},
                 "legend": {"title": "5 < Na/Ca < 100", "orient": "none", "legendX": 206, "legendY": 4, "columns": 2, "rowPadding": -3,
                            "encode": {"symbols": {"update": {"stroke": {"value": "black"}, "strokeWidth": {"value": 1}, "opacity": {"value": 1}}}}}}
             }}
          ],
          "resolve": {"scale": {"shape": "independent", "fill": "independent", "size": "independent"}}
        },
        {
          "width": 596, "height": 334,
          "data": {"name": "bSp"},
          "encoding": {
            "x": {"field": "e", "type": "nominal", "scale": {"type": "point", "padding": 0.5, "domain": ["Cs","Rb","Ba","Th","U","Nb","Ta","La","Ce","Pb","Pr","Sr","Nd","Zr","Hf","Sm","Eu","Ti","Sn","Gd","Tb","Dy","Li","Y","Ho","Er","Tm","Yb","Lu","Sc","V","Co","Zn"]},
                  "axis": {"title": null, "labelAngle": 0, "labelFontSize": 16, "tickSize": 5, "labelOverlap": false,
                           "labelPadding": {"condition": {"test": "indexof(['Rb','Th','Nb','La','Pb','Sr','Zr','Sm','Ti','Gd','Dy','Y','Er','Yb','Sc','Co'], datum.value) >= 0", "value": 10}, "value": 2}}},
            "y": {"field": "v", "type": "quantitative", "scale": {"type": "log", "domain": [0.01, 10000], "nice": false},
                  "axis": {"title": null,
                           "values": [0.01,0.02,0.03,0.04,0.05,0.06,0.07,0.08,0.09,0.1,0.2,0.3,0.4,0.5,0.6,0.7,0.8,0.9,1,2,3,4,5,6,7,8,9,10,20,30,40,50,60,70,80,90,100,200,300,400,500,600,700,800,900,1000,2000,3000,4000,5000,6000,7000,8000,9000,10000],
                           "labelExpr": "abs(log(datum.value)/LN10 - round(log(datum.value)/LN10)) < 0.001 ? (datum.value >= 1 ? format(datum.value, 'd') : replace(format(datum.value, '~g'), '.', ',')) : ''",
                           "labelFontSize": 19, "labelOverlap": false, "labelPadding": 2,
                           "tickSize": {"condition": {"test": "abs(log(datum.value)/LN10 - round(log(datum.value)/LN10)) < 0.001", "value": 6}, "value": 3},
                           "grid": true, "gridColor": "black", "gridWidth": 1.3,
                           "gridOpacity": {"condition": {"test": "abs(log(datum.value)/LN10 - round(log(datum.value)/LN10)) < 0.001", "value": 1}, "value": 0}}}
          },
          "layer": [
            {"mark": {"type": "line", "color": "black", "strokeWidth": 1, "invalid": "break-paths-filter-domains"}, "encoding": {"detail": {"field": "s"}}},
            {"mark": {"type": "point", "filled": true, "stroke": "black", "strokeWidth": 1, "opacity": 1},
             "encoding": {
               "shape": {"field": "s", "scale": {"domain": ["GM1303","GM1334","GM1337","GM1347","GM1370","GM1396","GM1401","GM1657"], "range": ["triangle-down","triangle-up","triangle-up","square","diamond","circle","square","circle"]}, "legend": null},
               "fill": {"field": "s", "scale": {"domain": ["GM1303","GM1334","GM1337","GM1347","GM1370","GM1396","GM1401","GM1657"], "range": ["black","black","white","#999999","#bbbbbb","#999999","#999999","white"]}, "legend": null},
               "size": {"field": "s", "type": "nominal", "scale": {"domain": ["GM1303","GM1334","GM1337","GM1347","GM1370","GM1396","GM1401","GM1657"], "range": [45,45,50,60,35,45,70,45]}, "legend": null}
             }},
            {"transform": [{"filter": "datum.s == 'GM1401' && isValid(datum.v)"}],
             "mark": {"type": "point", "filled": true, "fill": "white", "stroke": "black", "strokeWidth": 1, "size": 70,
                      "shape": "M0.62,0A0.62,0.62,0,1,1,-0.62,0A0.62,0.62,0,1,1,0.62,0ZM-0.4,-0.4L0.4,0.4M-0.4,0.4L0.4,-0.4"},
             "encoding": {}},
            {"transform": [{"filter": "(datum.s == 'GM1657' || datum.s == 'GM1370') && isValid(datum.v)"}],
             "mark": {"type": "point", "filled": true, "fill": "black", "shape": "circle", "size": 4},
             "encoding": {}}
          ]
        }
      ]
    }
  ],
  "spacing": 3,
  "resolve": {"scale": {"shape": "independent", "fill": "independent", "size": "independent"}, "legend": {"shape": "independent", "fill": "independent", "size": "independent"}},
  "config": {
    "font": "Liberation Serif",
    "view": {"stroke": "black", "strokeWidth": 1.5},
    "axis": {"domainColor": "black", "domainWidth": 1.2, "tickColor": "black", "tickWidth": 1, "labelColor": "black", "titleColor": "black", "labelFont": "Liberation Serif", "titleFont": "Liberation Serif"},
    "title": {"font": "Liberation Serif", "fontWeight": "bold", "fontSize": 24, "anchor": "start", "color": "black"},
    "legend": {"titleFont": "Liberation Serif", "titleFontSize": 19, "titleFontWeight": "bold", "titleColor": "black", "titleAnchor": "middle", "titlePadding": 2,
               "labelFont": "Liberation Serif", "labelFontSize": 16, "labelColor": "black", "labelOffset": 11,
               "symbolSize": 36, "symbolStrokeWidth": 1, "symbolStrokeColor": "black", "symbolOpacity": 1,
               "strokeColor": "black", "strokeWidth": 2, "fillColor": "white", "padding": 7, "columnPadding": 12, "rowPadding": -2}
  }
}
